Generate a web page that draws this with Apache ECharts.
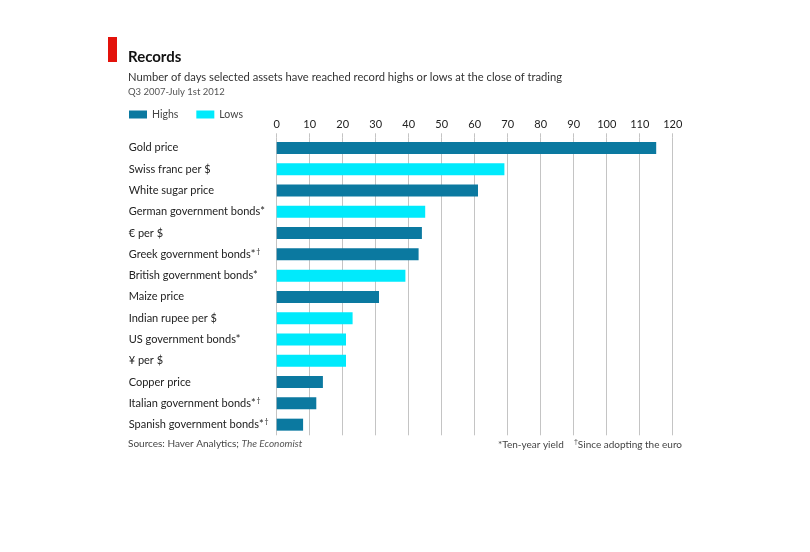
<!DOCTYPE html>
<html><head><meta charset="utf-8">
<script src="https://cdn.jsdelivr.net/npm/echarts@6/dist/echarts.min.js"></script>
<style>html,body{margin:0;padding:0;background:#fff}#c{width:810px;height:552px}</style>
</head><body><div id="c"></div>
<script>
// ---- data ----
const categories = ['Gold price','Swiss franc per $','White sugar price','German government bonds*','€ per $','Greek government bonds*†','British government bonds*','Maize price','Indian rupee per $','US government bonds*','¥ per $','Copper price','Italian government bonds*†','Spanish government bonds*†'];
const days = [115,69,61,45,44,43,39,31,23,21,21,14,12,8];
const recordType = ['Highs','Lows','Highs','Lows','Highs','Highs','Lows','Highs','Lows','Lows','Lows','Highs','Highs','Highs'];
const xMin = 0, xMax = 120, xInterval = 10;
const seriesNames = ['Highs','Lows'];
const seriesColors = {Highs:'#0b79a0', Lows:'#00eafc'};

const FONT = 'Lato, "Noto Sans", sans-serif';
const chart = echarts.init(document.getElementById('c'));

const series = seriesNames.map(name => ({
  name, type:'bar', barWidth:12, barGap:'-100%',
  itemStyle:{color:seriesColors[name]},
  data: days.map((v,i) => recordType[i] === name ? v : '-')
}));

chart.setOption({
  animation:false,
  backgroundColor:'#fff',
  textStyle:{fontFamily:FONT},
  grid:{left:276.7, top:137.3, width:396, height:298},
  legend:{
    data:seriesNames, left:129, top:109, padding:0, icon:'rect', itemWidth:18, itemHeight:8, itemGap:18,
    textStyle:{fontFamily:FONT, fontSize:10.5, color:'#444'}
  },
  xAxis:{
    type:'value', position:'top', min:xMin, max:xMax, interval:xInterval,
    axisLine:{show:false},
    axisTick:{show:true, length:4, lineStyle:{color:'#c4c4c4'}},
    axisLabel:{margin:7, fontSize:11, color:'#222', fontFamily:FONT},
    splitLine:{show:true, lineStyle:{color:'#c4c4c4', width:1}}
  },
  yAxis:{
    type:'category', inverse:true, data:categories,
    axisLine:{show:false}, axisTick:{show:false},
    axisLabel:{
      align:'left', margin:148, fontSize:11, color:'#222', fontFamily:FONT,
      formatter: v => v.replace('†','{d|†}'),
      rich:{d:{fontSize:7, verticalAlign:'top', color:'#222', padding:[0,0,5,1]}}
    }
  },
  series,
  graphic:[
    {type:'rect', left:108, top:37, shape:{width:9, height:25}, style:{fill:'#e3120b'}},
    {type:'text', left:128, top:50, style:{text:'Records', font:'bold 15px '+FONT, fill:'#111'}},
    {type:'text', left:128, top:72, style:{text:'Number of days selected assets have reached record highs or lows at the close of trading', font:'11.2px '+FONT, fill:'#333'}},
    {type:'text', left:128, top:87, style:{text:'Q3 2007-July 1st 2012', font:'9.5px '+FONT, fill:'#555'}},
    {type:'text', left:128, top:439, style:{
      text:'{a|Sources: Haver Analytics; }{b|The Economist}',
      rich:{a:{fontSize:10, fontFamily:FONT, fill:'#444'}, b:{fontSize:10, fontFamily:FONT, fontStyle:'italic', fill:'#555'}}
    }},
    {type:'text', right:128, top:439, style:{
      text:'*Ten-year yield    {s|†}Since adopting the euro',
      rich:{s:{fontSize:7, verticalAlign:'top', fill:'#444', padding:[0,0,4,0]}},
      fontSize:10, fontFamily:FONT, fill:'#444'
    }}
  ]
});
</script></body></html>
